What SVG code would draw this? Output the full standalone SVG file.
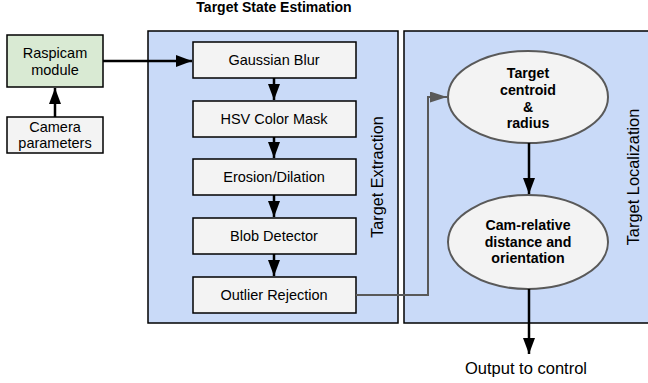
<svg xmlns="http://www.w3.org/2000/svg" width="648" height="383" viewBox="0 0 648 383">
<defs>
<style>
.t{font-family:"Liberation Sans",Arial,sans-serif;font-size:14.5px;fill:#000;text-anchor:middle}
.b{font-weight:bold;font-size:14.2px}
.box{fill:#f3f3f3;stroke:#000;stroke-width:1.5}
.panel{fill:#c9daf8;stroke:#000;stroke-width:1.5}
.ell{fill:#f3f3f3;stroke:#595959;stroke-width:2}
.blk{stroke:#000;stroke-width:2.5;fill:none}
.gry{stroke:#595959;stroke-width:2;fill:none}
</style>
<marker id="ab" viewBox="0 0 16 12" refX="16" refY="6" markerWidth="16" markerHeight="12" markerUnits="userSpaceOnUse" orient="auto"><path d="M0,0L16,6L0,12z" fill="#000"/></marker>
<marker id="ag" viewBox="0 0 17 11" refX="17" refY="5.5" markerWidth="17" markerHeight="11" markerUnits="userSpaceOnUse" orient="auto"><path d="M0,0L17,5.5L0,11z" fill="#595959"/></marker>
</defs>
<rect width="648" height="383" fill="#fff"/>
<text class="t b" x="274" y="12" style="font-size:14px">Target State Estimation</text>
<g id="panel-extraction">
<rect class="panel" x="148" y="31" width="250" height="292"/>
<text class="t" x="383" y="177" transform="rotate(-90 383 177)" style="font-size:16.2px">Target Extraction</text>
</g>
<g id="panel-localization">
<rect class="panel" x="404" y="31" width="260" height="292"/>
<text class="t" x="639" y="177" transform="rotate(-90 639 177)" style="font-size:16.4px">Target Localization</text>
</g>
<g id="raspicam">
<rect x="7" y="35" width="96" height="52" fill="#d9ead3" stroke="#000" stroke-width="1.5"/>
<text class="t" x="55" y="58">Raspicam</text>
<text class="t" x="55" y="75">module</text>
</g>
<g id="camera-parameters">
<rect class="box" x="7" y="117" width="96" height="36"/>
<text class="t" x="55" y="132">Camera</text>
<text class="t" x="55" y="148">parameters</text>
</g>
<g id="gaussian-blur">
<rect class="box" x="193" y="42" width="163" height="36"/>
<text class="t" x="274" y="65">Gaussian Blur</text>
</g>
<g id="hsv-color-mask">
<rect class="box" x="193" y="101" width="163" height="36"/>
<text class="t" x="274" y="124">HSV Color Mask</text>
</g>
<g id="erosion-dilation">
<rect class="box" x="193" y="159" width="163" height="36"/>
<text class="t" x="274" y="182">Erosion/Dilation</text>
</g>
<g id="blob-detector">
<rect class="box" x="193" y="218" width="163" height="36"/>
<text class="t" x="274" y="241">Blob Detector</text>
</g>
<g id="outlier-rejection">
<rect class="box" x="193" y="277" width="163" height="36"/>
<text class="t" x="274" y="300">Outlier Rejection</text>
</g>
<g id="target-centroid">
<ellipse class="ell" cx="528" cy="97" rx="80" ry="46"/>
<text class="t b" x="528" y="78">Target</text>
<text class="t b" x="528" y="95">centroid</text>
<text class="t b" x="528" y="112">&amp;</text>
<text class="t b" x="528" y="128">radius</text>
</g>
<g id="cam-relative">
<ellipse class="ell" cx="528" cy="242" rx="80" ry="47"/>
<text class="t b" x="528" y="230">Cam-relative</text>
<text class="t b" x="528" y="247">distance and</text>
<text class="t b" x="528" y="263">orientation</text>
</g>
<g id="output">
<text class="t" x="526" y="374" style="font-size:16.5px">Output to control</text>
</g>
<g id="connectors">
<path class="blk" d="M103,61H192" marker-end="url(#ab)"/>
<path class="blk" d="M55,117V88" marker-end="url(#ab)"/>
<path class="blk" d="M274,78V100" marker-end="url(#ab)"/>
<path class="blk" d="M274,137V158" marker-end="url(#ab)"/>
<path class="blk" d="M274,195V217" marker-end="url(#ab)"/>
<path class="blk" d="M274,254V276" marker-end="url(#ab)"/>
<path class="gry" d="M356,295H428V97H447" marker-end="url(#ag)"/>
<path class="blk" d="M529,143V194" marker-end="url(#ab)"/>
<path class="blk" d="M529,289V354" marker-end="url(#ab)"/>
</g>
</svg>
